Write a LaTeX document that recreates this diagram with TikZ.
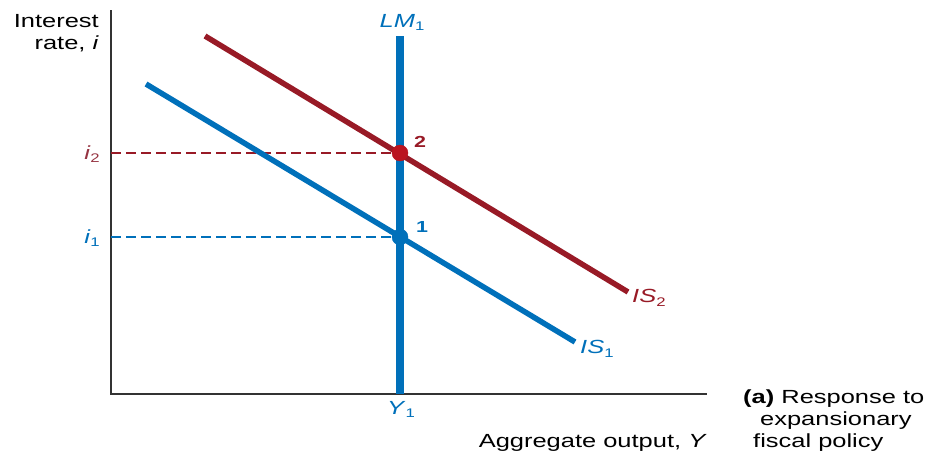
\documentclass[tikz,border=0pt]{standalone}
\usepackage{fontspec}
\setmainfont{Liberation Sans}[FakeStretch=1.34]
\usetikzlibrary{positioning}
\definecolor{isblue}{RGB}{0,112,186}
\definecolor{isred}{RGB}{152,26,38}
\definecolor{ptred}{RGB}{186,20,32}
\definecolor{lblred}{RGB}{150,52,66}
\newcommand{\lowidx}[1]{\raisebox{-0.35ex}{\fontsize{12.5}{12.5}\selectfont #1}}
\tikzset{
  txt/.style={font=\fontsize{19}{22}\selectfont, inner sep=0pt},
  ptlabel/.style={font=\fontsize{16}{16}\selectfont\bfseries, inner sep=0pt},
  axis/.style={line width=1.3pt, black!80},
  curve/.style={line width=5.5pt},
  guide/.style={line width=1.1pt, dash pattern=on 10pt off 5pt},
}
\begin{document}
\begin{tikzpicture}[x=1pt,y=-1pt]
  \useasboundingbox (0,0) rectangle (940,458);
  \coordinate (O) at (111,394);
  \coordinate (Ytop) at (111,10);
  \coordinate (Xend) at (707,394);
  \coordinate (IS2a) at (205,36);
  \coordinate (IS2b) at (628,292);
  \coordinate (IS1a) at (146,84);
  \coordinate (IS1b) at (575,342);
  \coordinate (LMa) at (400,36);
  \coordinate (LMb) at (400,394);
  \coordinate (E2) at (400,153);
  \coordinate (E1) at (400,237);
  \coordinate (I2) at (111,153);
  \coordinate (I1) at (111,237);
  % axes
  \draw[axis] (Ytop) -- (O) -- (Xend);
  \draw[guide, isred] (I2) -- (E2);
  \draw[guide, isblue] (I1) -- (E1);
  % curves
  \draw[curve, isblue] (IS1a) -- (IS1b);
  \draw[line width=8pt, isblue] (LMa) -- (LMb);
  \draw[curve, isred] (IS2a) -- (IS2b);
  \filldraw[ptred] (E2) circle (8pt);
  \filldraw[isblue] (E1) circle (8pt);
  % labels
  \node[txt, anchor=north east, align=right] (yname) at (99,14) {Interest\\rate, \textit{i}};
  \node[txt, anchor=east, lblred] (i2) at (100,154) {\textit{i}\lowidx{2}};
  \node[txt, anchor=east, isblue] (i1) at (100,238) {\textit{i}\lowidx{1}};
  \node[txt, anchor=base, isblue] (lm) at (402,27) {\textit{LM}\lowidx{1}};
  \node[txt, anchor=north, isblue] (y1) at (401,401) {\textit{Y}\lowidx{1}};
  \node[txt, anchor=west, isred] (is2) at (632,298) {\textit{IS}\lowidx{2}};
  \node[txt, anchor=west, isblue] (is1) at (580,349) {\textit{IS}\lowidx{1}};
  \node[ptlabel, isred] (p2) at (420,142) {2};
  \node[ptlabel, isblue] (p1) at (422,227) {1};
  \node[txt, anchor=base east] (xname) at (707,447) {Aggregate output, \textit{Y}};
  \node[txt, anchor=north west, align=left] (cap) at (743,390)
    {\textbf{(a)} Response to\\\hspace*{17pt}expansionary\\\hspace*{10pt}fiscal policy};
\end{tikzpicture}
\end{document}
